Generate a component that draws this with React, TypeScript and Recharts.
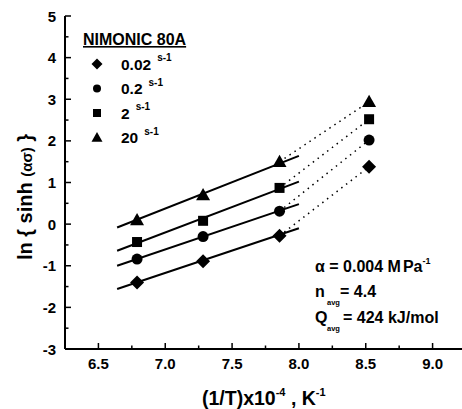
import React from 'react';
import { ScatterChart, Scatter, XAxis, YAxis } from 'recharts';

// 1/T x 10^4 for 1473, 1373, 1273, 1173 K
const invT = [6.789, 7.283, 7.855, 8.525];
const rate002 = [-1.4, -0.89, -0.28, 1.38];
const rate02 = [-0.84, -0.3, 0.31, 2.02];
const rate2 = [-0.43, 0.08, 0.87, 2.52];
const rate20 = [0.1, 0.7, 1.5, 2.94];

// fitted lines (start / end)
const fitX = [6.64, 8.0];
const fit002 = [-1.56, -0.1];
const fit02 = [-1.0, 0.48];
const fit2 = [-0.64, 1.02];
const fit20 = [-0.08, 1.64];

const xTicks = [6.5, 6.75, 7.0, 7.25, 7.5, 7.75, 8.0, 8.25, 8.5, 8.75, 9.0];
const yTicks = [-3, -2.5, -2, -1.5, -1, -0.5, 0, 0.5, 1, 1.5, 2, 2.5, 3, 3.5, 4, 4.5, 5];

const FONT = "'Liberation Sans', Arial, sans-serif";

const toPts = (xs: number[], ys: number[]) => xs.map((x, i) => ({ x, y: ys[i] }));

const isMajorX = (v: number) => Math.abs(v * 2 - Math.round(v * 2)) < 1e-6;
const isMajorY = (v: number) => Number.isInteger(v);

const BottomTick = (p: any) => {
  const { x, y, payload } = p;
  const v = payload.value;
  const major = isMajorX(v);
  return (
    <g>
      <line x1={x} x2={x} y1={y} y2={y - (major ? 6 : 3.5)} stroke="#000" strokeWidth={1.5} />
      {major && (
        <text x={x} y={y + 20} textAnchor="middle" fontFamily={FONT} fontWeight="bold" fontSize={15} fill="#000">
          {v.toFixed(1)}
        </text>
      )}
    </g>
  );
};

const TopTick = (p: any) => {
  const { x, y, payload } = p;
  const major = isMajorX(payload.value);
  return <line x1={x} x2={x} y1={y} y2={y + (major ? 6 : 3.5)} stroke="#000" strokeWidth={1.5} />;
};

const LeftTick = (p: any) => {
  const { x, y, payload } = p;
  const v = payload.value;
  const major = isMajorY(v);
  return (
    <g>
      <line x1={x} x2={x + (major ? 6 : 3.5)} y1={y} y2={y} stroke="#000" strokeWidth={1.5} />
      {major && (
        <text x={x - 9} y={y + 5.5} textAnchor="end" fontFamily={FONT} fontWeight="bold" fontSize={15} fill="#000">
          {String(v)}
        </text>
      )}
    </g>
  );
};

const RightTick = (p: any) => {
  const { x, y, payload } = p;
  const major = isMajorY(payload.value);
  return <line x1={x} x2={x - (major ? 6 : 3.5)} y1={y} y2={y} stroke="#000" strokeWidth={1.5} />;
};

const Diamond = ({ cx, cy, r = 7 }: any) => (
  <path d={`M${cx},${cy - r}L${cx + r},${cy}L${cx},${cy + r}L${cx - r},${cy}Z`} fill="#000" />
);
const Dot = ({ cx, cy, r = 5.5 }: any) => <circle cx={cx} cy={cy} r={r} fill="#000" />;
const Square = ({ cx, cy, r = 5 }: any) => <rect x={cx - r} y={cy - r} width={2 * r} height={2 * r} fill="#000" />;
const Triangle = ({ cx, cy, r = 7 }: any) => (
  <path d={`M${cx},${cy - r}L${cx + r},${cy + r * 0.75}L${cx - r},${cy + r * 0.75}Z`} fill="#000" />
);
const NoShape = () => <g />;

const series = [
  { ys: rate002, fit: fit002, shape: Diamond },
  { ys: rate02, fit: fit02, shape: Dot },
  { ys: rate2, fit: fit2, shape: Square },
  { ys: rate20, fit: fit20, shape: Triangle },
];

const legendRows = [
  { label: '0.02', shape: Diamond, r: 5.5 },
  { label: '0.2', shape: Dot, r: 4 },
  { label: '2', shape: Square, r: 4 },
  { label: '20', shape: Triangle, r: 5.5 },
];

export default function App() {
  return (
    <div style={{ position: 'fixed', left: 0, top: 0, width: 462, height: 409, overflow: 'hidden', background: '#fff' }}>
      <ScatterChart width={480} height={409} margin={{ top: 16, right: 14, bottom: 0, left: 0 }}>
        <XAxis
          xAxisId="b"
          type="number"
          dataKey="x"
          domain={[6.25, 9.25]}
          allowDataOverflow
          ticks={xTicks}
          interval={0}
          height={60}
          tickSize={0}
          tickMargin={0}
          tickLine={false}
          tick={BottomTick}
          axisLine={{ stroke: '#000', strokeWidth: 2 }}
        />
        <XAxis
          xAxisId="t"
          orientation="top"
          type="number"
          dataKey="x"
          domain={[6.25, 9.25]}
          allowDataOverflow
          ticks={xTicks}
          interval={0}
          height={0}
          tickSize={0}
          tickMargin={0}
          tickLine={false}
          tick={TopTick}
          axisLine={{ stroke: '#000', strokeWidth: 2 }}
        />
        <YAxis
          yAxisId="l"
          type="number"
          dataKey="y"
          domain={[-3, 5]}
          allowDataOverflow
          ticks={yTicks}
          interval={0}
          width={65}
          tickSize={0}
          tickMargin={0}
          tickLine={false}
          tick={LeftTick}
          axisLine={{ stroke: '#000', strokeWidth: 2 }}
        />
        <YAxis
          yAxisId="r"
          orientation="right"
          type="number"
          dataKey="y"
          domain={[-3, 5]}
          allowDataOverflow
          ticks={yTicks}
          interval={0}
          width={0}
          tickSize={0}
          tickMargin={0}
          tickLine={false}
          tick={RightTick}
          axisLine={{ stroke: '#000', strokeWidth: 2 }}
        />
        {series.map((s, i) => (
          <Scatter
            key={`fit${i}`}
            xAxisId="b"
            yAxisId="l"
            data={toPts(fitX, s.fit)}
            line={{ stroke: '#000', strokeWidth: 2 }}
            shape={NoShape}
            isAnimationActive={false}
          />
        ))}
        {series.map((s, i) => (
          <Scatter
            key={`dot${i}`}
            xAxisId="b"
            yAxisId="l"
            data={toPts(invT.slice(2), s.ys.slice(2))}
            line={{ stroke: '#000', strokeWidth: 1.5, strokeDasharray: '1.5 4.5' }}
            shape={NoShape}
            isAnimationActive={false}
          />
        ))}
        {series.map((s, i) => (
          <Scatter
            key={`pts${i}`}
            xAxisId="b"
            yAxisId="l"
            data={toPts(invT, s.ys)}
            shape={s.shape}
            isAnimationActive={false}
          />
        ))}
      </ScatterChart>
      <svg
        width={462}
        height={409}
        style={{ position: 'absolute', left: 0, top: 0, pointerEvents: 'none' }}
        fontFamily={FONT}
        fontWeight="bold"
        fill="#000"
      >
        <text x={83} y={45} fontSize={16} textDecoration="underline">NIMONIC 80A</text>
        {legendRows.map((row, i) => {
          const cy = 64 + i * 24.5;
          const Shape = row.shape;
          return (
            <g key={row.label}>
              <Shape cx={97} cy={cy} r={row.r} />
              <text x={121} y={cy + 5.5} fontSize={15.5}>
                {row.label}
                <tspan fontSize={10} dx={6} dy={-8.5}>s-1</tspan>
              </text>
            </g>
          );
        })}
        <text x={315} y={272} fontSize={16}>
          α = 0.004 M<tspan dx={2}>Pa</tspan>
          <tspan fontSize={9} dy={-8}>-1</tspan>
        </text>
        <text x={315} y={297} fontSize={16}>
          n<tspan fontSize={7.5} x={327} dy={8}>avg</tspan>
          <tspan x={340} dy={-8}>= 4.4</tspan>
        </text>
        <text x={315} y={323} fontSize={16}>
          Q<tspan fontSize={7.5} x={327} dy={8}>avg</tspan>
          <tspan x={343} dy={-8}>= 424 kJ/mol</tspan>
        </text>
        <text x={202} y={405} fontSize={19.5}>
          (1/T)x10<tspan fontSize={11} dy={-9}>-4</tspan>
          <tspan dy={9}> , K</tspan>
          <tspan fontSize={11} dy={-9}>-1</tspan>
        </text>
        <text x={32} y={197} fontSize={20} textAnchor="middle" transform="rotate(-90 32 197)">
          ln {'{'} sinh <tspan fontSize={15}>(ασ)</tspan> {'}'}
        </text>
      </svg>
    </div>
  );
}
